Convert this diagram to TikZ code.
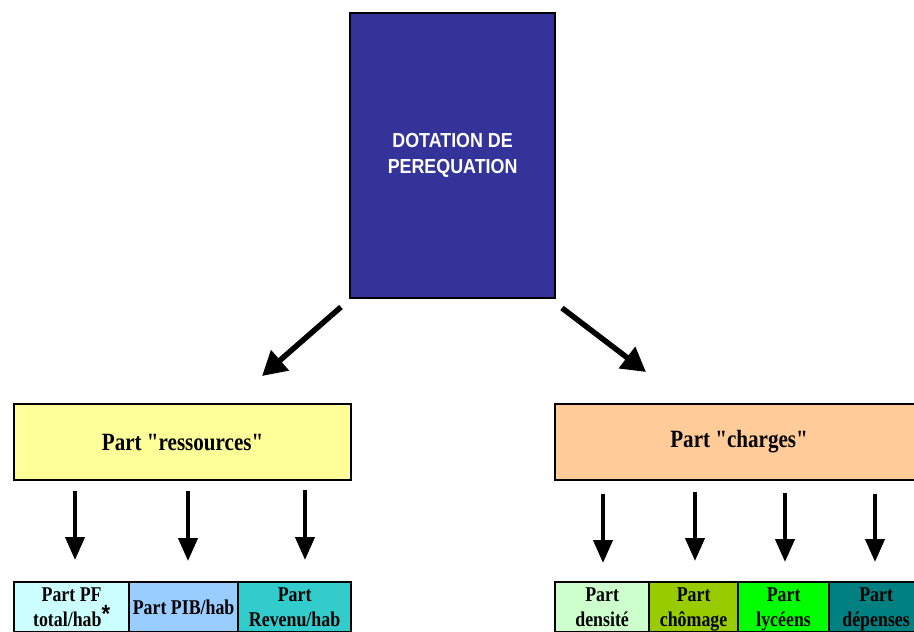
\documentclass[tikz,border=0pt]{standalone}
\usepackage{fontspec}
\setmainfont{Liberation Serif}[FakeStretch=0.85, Ligatures=TeXOff]
\newfontfamily\headfont{Liberation Sans}[FakeStretch=0.88]
\usetikzlibrary{arrows.meta}

\definecolor{topblue}{HTML}{333399}
\definecolor{resyellow}{HTML}{FFFF99}
\definecolor{chgorange}{HTML}{FFCC99}
\definecolor{cpf}{HTML}{CCFFFF}
\definecolor{cpib}{HTML}{99CCFF}
\definecolor{crev}{HTML}{33CCCC}
\definecolor{cden}{HTML}{CCFFCC}
\definecolor{ccho}{HTML}{99CC00}
\definecolor{clyc}{HTML}{00FF00}
\definecolor{cdep}{HTML}{008080}

% two-line cell label: cap height on top, no depth below
\newcommand{\twoline}[2]{\vphantom{P}#1\\\raisebox{0pt}[\height][0pt]{#2}}

\begin{document}
\begin{tikzpicture}[x=1pt,y=-1pt,
  box/.style={draw=black, line width=2.2pt, inner sep=0pt, anchor=north west, align=center},
  head/.style={box, fill=topblue, text=white, font=\headfont\bfseries\fontsize{20.3}{25.7}\selectfont},
  partbox/.style={box, font=\bfseries\fontsize{24.8}{28}\selectfont, minimum height=76pt},
  cell/.style={box, font=\bfseries\fontsize{21}{25}\selectfont, minimum height=50pt},
  bigarrow/.style={line width=5.5pt, -{Triangle[length=24pt,width=26pt]}},
  smallarrow/.style={line width=4.2pt, -{Triangle[length=23pt,width=19pt]}}]
\useasboundingbox (0,0) rectangle (914,632);

% main box
\node[head, minimum width=205pt, minimum height=285pt] (dot) at (349,12) {DOTATION DE\\PEREQUATION};

% the two parts
\node[partbox, fill=resyellow, minimum width=337pt] (res) at (13,403) {Part "ressources"};
\node[partbox, fill=chgorange, minimum width=368pt] (chg) at (554,403) {Part "charges"};

% resources sub-parts
\node[cell, fill=cpf, minimum width=115pt] (pf) at (13,581)
  {\twoline{Part PF}{total/hab\raisebox{4pt}{\headfont\fontsize{25}{25}\selectfont *}}};
\node[cell, fill=cpib, minimum width=109pt] (pib) at (128,581) {Part PIB/hab};
\node[cell, fill=crev, minimum width=113pt] (rev) at (237,581) {\twoline{Part}{Revenu/hab}};

% charges sub-parts
\node[cell, fill=cden, minimum width=94pt] (den) at (554,581) {\twoline{Part}{densité}};
\node[cell, fill=ccho, minimum width=89pt] (cho) at (648,581) {\twoline{Part}{chômage}};
\node[cell, fill=clyc, minimum width=91pt] (lyc) at (737,581) {\twoline{Part}{lycéens}};
\node[cell, fill=cdep, minimum width=94pt] (dep) at (828,581) {\twoline{Part}{dépenses}};

% arrow end points
\coordinate (dl0) at (341,307); \coordinate (dl1) at (262,376);
\coordinate (dr0) at (562,308); \coordinate (dr1) at (646,372);
\coordinate (a0) at (75,491);  \coordinate (a1) at (75,560);
\coordinate (b0) at (188,491); \coordinate (b1) at (188,561);
\coordinate (c0) at (305,490); \coordinate (c1) at (305,560);
\coordinate (d0) at (603,494); \coordinate (d1) at (603,563);
\coordinate (e0) at (695,492); \coordinate (e1) at (695,561);
\coordinate (f0) at (785,493); \coordinate (f1) at (785,562);
\coordinate (g0) at (875,494); \coordinate (g1) at (875,562);

\draw[bigarrow] (dl0) -- (dl1);
\draw[bigarrow] (dr0) -- (dr1);
\foreach \s in {a,b,c,d,e,f,g}
  \draw[smallarrow] (\s0) -- (\s1);
\end{tikzpicture}
\end{document}
